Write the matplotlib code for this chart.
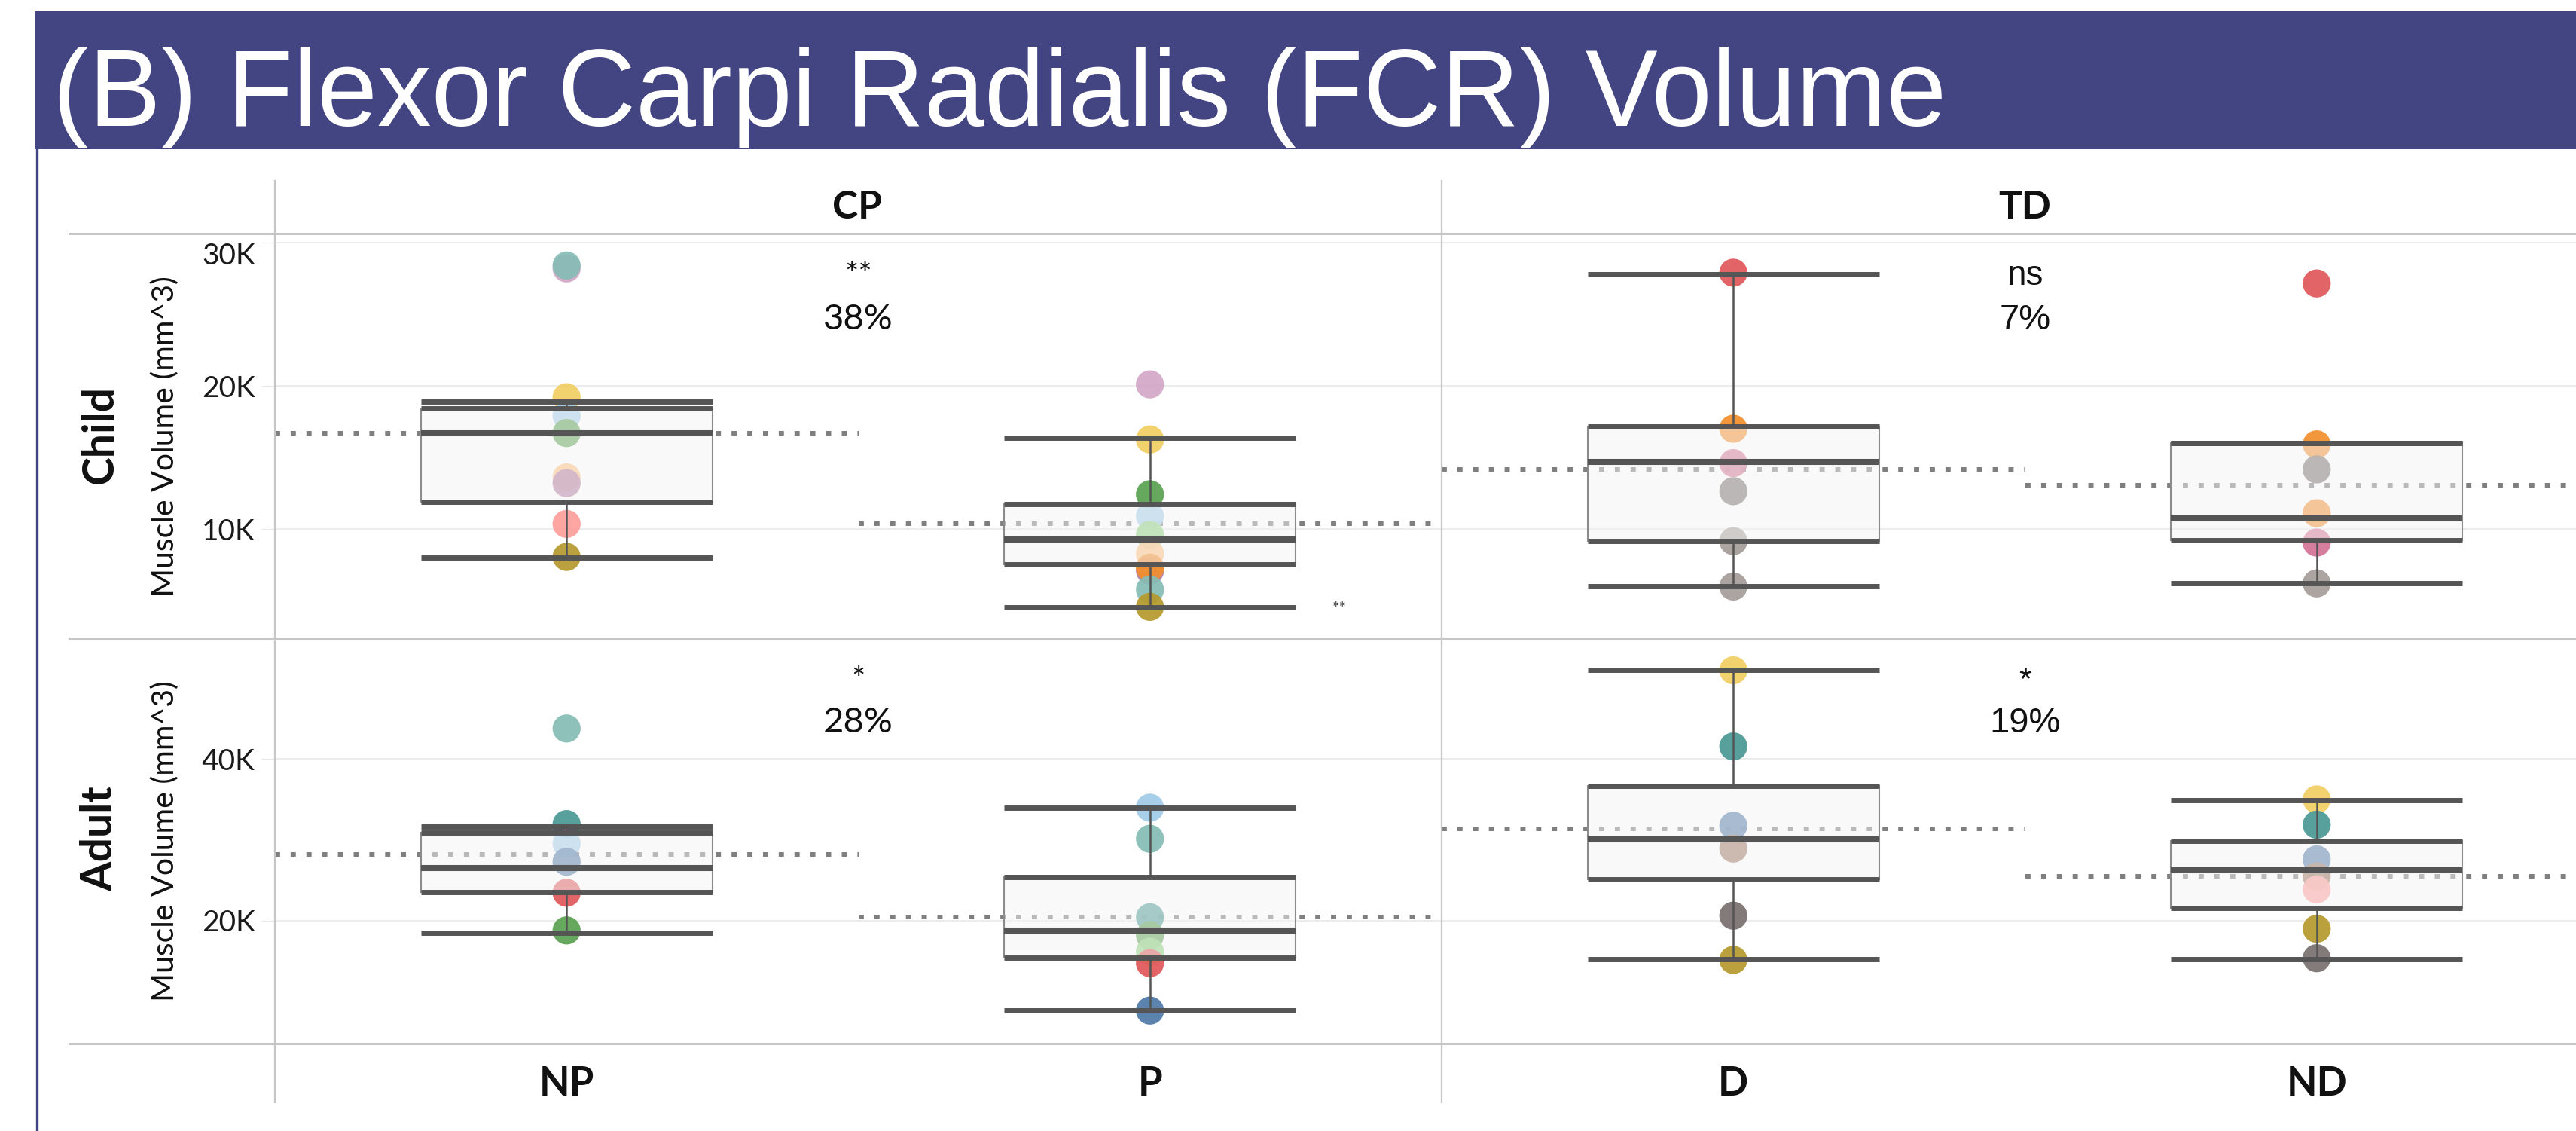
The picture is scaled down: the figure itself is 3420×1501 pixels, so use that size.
import matplotlib
matplotlib.use("Agg")
import matplotlib.pyplot as plt
from matplotlib.patches import Rectangle
from matplotlib.lines import Line2D

W, H, DPI = 3420, 1501, 100

plt.rcParams["font.family"] = ["Lato", "DejaVu Sans"]

# ---------------- data ----------------
ages = ["Child", "Adult"]
groups = ["CP", "TD"]
sides = [["NP", "P"], ["D", "ND"]]

# box plot stats, order NP, P, D, ND
child_lo = [7990, 4530, 5980, 6200]
child_q1 = [11920, 7510, 9170, 9190]
child_med = [16700, 9250, 14710, 10720]
child_q3 = [18440, 11720, 17160, 16020]
child_hi = [18900, 16350, 27800, 16020]
child_avg = [16700, 10350, 14160, 13070]

adult_lo = [18490, 8910, 15300, 15260]
adult_q1 = [23540, 15460, 25080, 21600]
adult_med = [26500, 18810, 30050, 26240]
adult_q3 = [30900, 25400, 36670, 29880]
adult_hi = [31660, 33960, 51010, 34890]
adult_avg = [28200, 20510, 31340, 25520]

# subjects (one colour per subject)
child_np = [28200, 28400, 19200, 17900, 16700, 13600, 13200, 10350, 8050]
child_np_c = ["#D4A6C8", "#86BCB6", "#F1CE63", "#A0CBE8", "#59A14F", "#FFBE7D", "#B07AA1", "#FF9D9A", "#B6992D"]
child_p = [20100, 16250, 12420, 10900, 9580, 8270, 7100, 7300, 5760, 4560]
child_p_c = ["#D4A6C8", "#F1CE63", "#59A14F", "#A0CBE8", "#8CD17D", "#FFBE7D", "#B07AA1", "#F28E2B", "#86BCB6", "#B6992D"]
child_d = [27900, 17000, 14600, 12640, 9150, 5980]
child_d_c = ["#E15759", "#F28E2B", "#D37295", "#79706E", "#A59C98", "#A59C98"]
child_nd = [27150, 15910, 14160, 11100, 9050, 6200]
child_nd_c = ["#E15759", "#F28E2B", "#79706E", "#F28E2B", "#D37295", "#A59C98"]

adult_np = [43740, 31940, 29520, 27290, 23460, 18810]
adult_np_c = ["#86BCB6", "#499894", "#A0CBE8", "#4E79A7", "#E15759", "#59A14F"]
adult_p = [33960, 30120, 20430, 18200, 16190, 14770, 8910]
adult_p_c = ["#A0CBE8", "#86BCB6", "#499894", "#59A14F", "#8CD17D", "#E15759", "#4E79A7"]
adult_d = [50930, 41520, 31740, 28910, 20630, 15170]
adult_d_c = ["#F1CE63", "#499894", "#4E79A7", "#9D7660", "#79706E", "#B6992D"]
adult_nd = [34980, 31860, 27580, 25480, 23860, 19010, 15380]
adult_nd_c = ["#F1CE63", "#499894", "#4E79A7", "#9D7660", "#FF9D9A", "#B6992D", "#79706E"]

# significance and % difference per group
child_sig = ["**", "ns"]
child_pct = ["38%", "7%"]
adult_sig = ["*", "*"]
adult_pct = ["28%", "19%"]

child_ticks = [10000, 20000, 30000]
adult_ticks = [20000, 40000]

rows = [
    dict(lo=child_lo, q1=child_q1, med=child_med, q3=child_q3, hi=child_hi, avg=child_avg,
         dots=[child_np, child_p, child_d, child_nd],
         cols=[child_np_c, child_p_c, child_d_c, child_nd_c],
         sig=child_sig, pct=child_pct, ticks=child_ticks,
         ylim=(2316, 30632), sig_y=27050, pct_y=23950),
    dict(lo=adult_lo, q1=adult_q1, med=adult_med, q3=adult_q3, hi=adult_hi, avg=adult_avg,
         dots=[adult_np, adult_p, adult_d, adult_nd],
         cols=[adult_np_c, adult_p_c, adult_d_c, adult_nd_c],
         sig=adult_sig, pct=adult_pct, ticks=adult_ticks,
         ylim=(4837, 54791), sig_y=48560, pct_y=43260),
]

# ---------------- layout (pixels) ----------------
col_x = [365, 1914]
col_w = 1549
row_y = [310, 848]
row_h = [538, 537]
banner = "#434482"
line_grey = "#c6c6c6"
box_dark = "#555555"


def fx(px):
    return px / W


def fy(py):
    return 1 - py / H


fig = plt.figure(figsize=(W / DPI, H / DPI), dpi=DPI)
fig.patch.set_facecolor("white")

# title banner
fig.patches.append(Rectangle((fx(47), fy(198)), 1, (198 - 15) / H, transform=fig.transFigure,
                             facecolor=banner, edgecolor="none", zorder=0))
fig.text(fx(70), fy(167), "(B) Flexor Carpi Radialis (FCR) Volume", color="white",
         fontsize=103.4, family="Liberation Sans", va="baseline", ha="left")
fig.lines.append(Line2D([fx(48.5), fx(48.5)], [fy(198), 0], transform=fig.transFigure,
                        color=banner, lw=2.4))

for r, row in enumerate(rows):
    for c in range(2):
        ax = fig.add_axes([fx(col_x[c]), fy(row_y[r] + row_h[r]), col_w / W, row_h[r] / H])
        ax.set_xlim(-0.5, 1.5)
        ax.set_ylim(*row["ylim"])
        for s in ax.spines.values():
            s.set_visible(False)
        ax.set_axisbelow(True)
        ax.set_yticks(row["ticks"])
        ax.grid(axis="y", color="#ebebeb", lw=1.3)
        ax.tick_params(axis="y", length=13, color="#e8e8e8", pad=6)
        if c == 0:
            ax.set_yticklabels([f"{t // 1000}K" for t in row["ticks"]], fontsize=28, color="#1a1a1a")
            if r == 0:
                ax.get_yticklabels()[-1].set_va("top")
            ax.set_ylabel("Muscle Volume (mm^3)", fontsize=29.5, color="#111111", va="center")
            ax.yaxis.set_label_coords((219 - col_x[0]) / col_w, 0.5)
        else:
            ax.set_yticklabels([])
            ax.tick_params(axis="y", length=0)

        if r == 1:
            ax.set_xticks([0, 1])
            ax.set_xticklabels(sides[c], fontsize=38, fontweight="bold", color="#111111")
            ax.tick_params(axis="x", length=0, pad=21)
        else:
            ax.set_xticks([])

        for k in range(2):
            i = 2 * c + k
            # average reference line across the cell
            ax.hlines(row["avg"][i], k - 0.5, k + 0.5, colors="#7f7f7f", lw=4.3,
                      linestyles=(0, (1.15, 2.35)), zorder=1)
            # subject dots
            ax.scatter([k] * len(row["dots"][i]), row["dots"][i], s=720, c=row["cols"][i],
                       alpha=0.92, linewidths=0, zorder=2)
            # box
            ax.bar(k, row["q3"][i] - row["q1"][i], bottom=row["q1"][i], width=0.5,
                   facecolor=(0.955, 0.955, 0.955, 0.5), edgecolor="#8c8c8c", lw=1.5, zorder=3)
            ax.vlines(k, row["q3"][i], row["hi"][i], colors=box_dark, lw=1.8, zorder=4)
            ax.vlines(k, row["lo"][i], row["q1"][i], colors=box_dark, lw=1.8, zorder=4)
            ax.hlines([row["lo"][i], row["hi"][i], row["q1"][i], row["q3"][i]],
                      k - 0.25, k + 0.25, colors=box_dark, lw=5, zorder=5)
            ax.hlines(row["med"][i], k - 0.25, k + 0.25, colors=box_dark, lw=5.8, zorder=5)

        fam = "Lato" if c == 0 else "Liberation Sans"
        ax.text(0.5, row["sig_y"], row["sig"][c], ha="center", va="baseline",
                fontsize=31 if "*" in row["sig"][c] else 33, family=fam, color="#111111")
        ax.text(0.5, row["pct_y"], row["pct"][c], ha="center", va="baseline",
                fontsize=34, family=fam, color="#111111")
        if r == 0 and c == 0:
            ax.text(1.324, 4420, "**", ha="center", va="center", fontsize=16, color="#333333")

# column headers and row headers
for c, g in enumerate(groups):
    fig.text(fx(col_x[c] + col_w / 2 + (-2 if c == 0 else 0)), fy(275), g, ha="center", va="center",
             fontsize=37, fontweight="bold", color="#111111")
for r, a in enumerate(ages):
    fig.text(fx(133), fy(row_y[r] + row_h[r] / 2 - 3), a, rotation=90, ha="center", va="center",
             fontsize=41, fontweight="bold", color="#111111")

# pane separators
for y in [310, 848, 1385]:
    fig.lines.append(Line2D([fx(92), 1], [fy(y), fy(y)], transform=fig.transFigure,
                            color=line_grey, lw=2.2))
for x in col_x:
    fig.lines.append(Line2D([fx(x), fx(x)], [fy(240), fy(1463)], transform=fig.transFigure,
                            color=line_grey, lw=1.6))

fig.savefig("out.png", dpi=DPI)
